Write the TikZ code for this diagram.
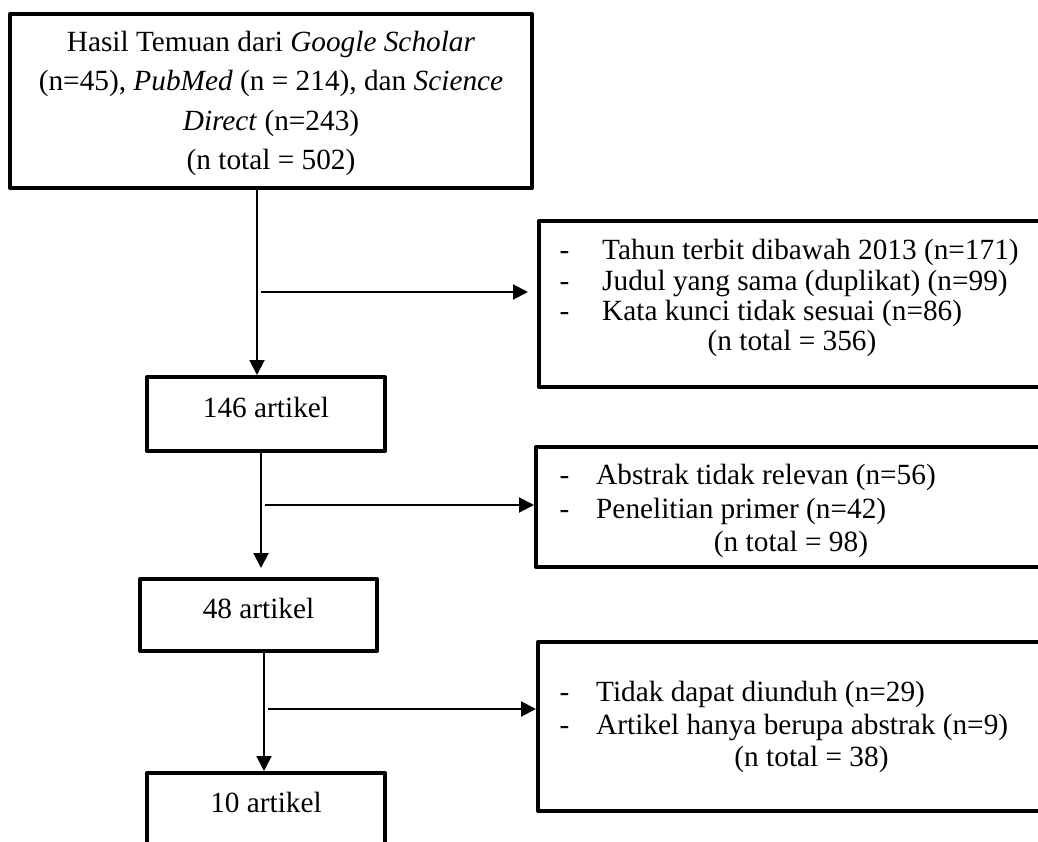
\documentclass[tikz,border=0pt]{standalone}
\usepackage{fontspec}
\setmainfont{Liberation Serif}
\usetikzlibrary{arrows.meta}
\begin{document}
\begin{tikzpicture}[x=1pt,y=-1pt,
  box/.style={draw=black, line width=4pt, line join=round, inner sep=0pt, fill=white},
  txt/.style={font=\fontsize{29.3pt}{30pt}\selectfont, inner sep=0pt, text=black},
  arr/.style={draw=black, line width=2pt, -{Triangle[length=15pt,width=15pt]}}
]
\useasboundingbox (0,0) rectangle (1038,842);
\clip (0,0) rectangle (1038,842);
\fill[white] (0,0) rectangle (1038,842);

% boxes (stroke-centre geometry)
\node[box, minimum width=522pt, minimum height=174pt] (top) at (271,101) {};
\node[box, minimum width=238pt, minimum height=74pt] (a) at (266,414) {};
\node[box, minimum width=237pt, minimum height=72pt] (b) at (258.5,615) {};
\node[box, minimum width=238pt, minimum height=180pt] (c) at (266,863) {};
\node[box, minimum width=551pt, minimum height=166pt] (r1) at (814.5,304) {};
\node[box, minimum width=510pt, minimum height=120pt] (r2) at (791,507) {};
\node[box, minimum width=545pt, minimum height=169pt] (r3) at (810.5,726.5) {};

% top box text
\node[txt, anchor=base] (top1) at (271,52) {Hasil Temuan dari \textit{Google Scholar}};
\node[txt, anchor=base] (top2) at (271,91) {(n=45), \textit{PubMed} (n = 214), dan \textit{Science}};
\node[txt, anchor=base] (top3) at (271,131) {\textit{Direct} (n=243)};
\node[txt, anchor=base] (top4) at (271,170) {(n total = 502)};

% stage boxes text
\node[txt, anchor=base] (at) at (266,417) {146 artikel};
\node[txt, anchor=base] (bt) at (258.5,618) {48 artikel};
\node[txt, anchor=base] (ct) at (266,812) {10 artikel};

% right box 1
\node[txt, anchor=base west] (d11) at (559.5,260) {-};
\node[txt, anchor=base west] (d12) at (559.5,290) {-};
\node[txt, anchor=base west] (d13) at (559.5,320) {-};
\node[txt, anchor=base west] (l11) at (602,260) {Tahun terbit dibawah 2013 (n=171)};
\node[txt, anchor=base west] (l12) at (602,290) {Judul yang sama (duplikat) (n=99)};
\node[txt, anchor=base west] (l13) at (602,320) {Kata kunci tidak sesuai (n=86)};
\node[txt, anchor=base] (l14) at (792,350) {(n total = 356)};

% right box 2
\node[txt, anchor=base west] (d21) at (559.5,484) {-};
\node[txt, anchor=base west] (d22) at (559.5,518) {-};
\node[txt, anchor=base west] (l21) at (596,484) {Abstrak tidak relevan (n=56)};
\node[txt, anchor=base west] (l22) at (596,518) {Penelitian primer (n=42)};
\node[txt, anchor=base] (l23) at (791,551) {(n total = 98)};

% right box 3
\node[txt, anchor=base west] (d31) at (559.5,701) {-};
\node[txt, anchor=base west] (d32) at (559.5,734) {-};
\node[txt, anchor=base west] (l31) at (596,701) {Tidak dapat diunduh (n=29)};
\node[txt, anchor=base west] (l32) at (596,734) {Artikel hanya berupa abstrak (n=9)};
\node[txt, anchor=base] (l33) at (811.5,766) {(n total = 38)};

% connectors
\coordinate (v1) at (257,0);
\coordinate (v2) at (261,0);
\coordinate (v3) at (264,0);
\coordinate (h1) at (261,292);
\coordinate (h2) at (265,505);
\coordinate (h3) at (268,709);

\draw[arr] (top.south -| v1) -- (a.north -| v1);
\draw[arr, shorten >=9pt] (h1) -- (h1 -| r1.west);
\draw[arr, shorten >=9pt] (a.south -| v2) -- (b.north -| v2);
\draw[arr] (h2) -- (h2 -| r2.west);
\draw[arr] (b.south -| v3) -- (c.north -| v3);
\draw[arr] (h3) -- (h3 -| r3.west);
\end{tikzpicture}
\end{document}
